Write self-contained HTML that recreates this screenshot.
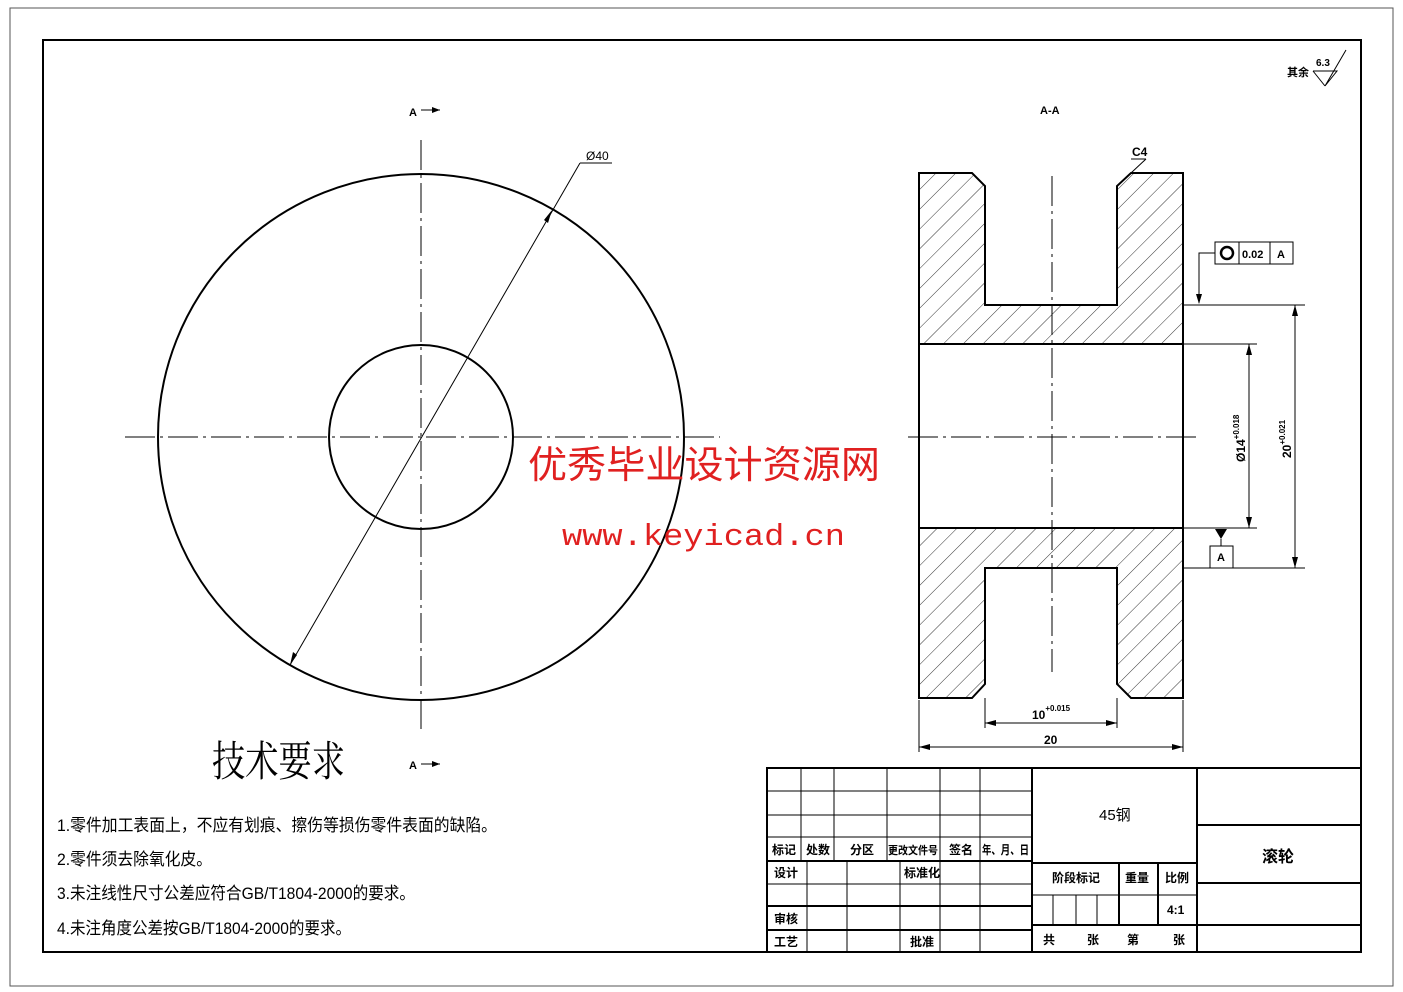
<!DOCTYPE html>
<html><head><meta charset="utf-8"><style>
html,body{margin:0;padding:0;background:#fff;}
svg{display:block;}
text{font-family:"Liberation Sans","Noto Sans CJK SC",sans-serif;fill:#000;}
</style></head><body>
<svg width="1403" height="992" viewBox="0 0 1403 992" xmlns="http://www.w3.org/2000/svg">
<defs>
<pattern id="h" patternUnits="userSpaceOnUse" width="14" height="14" patternTransform="rotate(45)">
<line x1="0" y1="0" x2="0" y2="14" stroke="#000" stroke-width="0.8"/>
</pattern>
</defs>
<rect x="10" y="8" width="1383" height="978" fill="none" stroke="#555" stroke-width="1"/>
<rect x="43" y="40" width="1318" height="912" fill="none" stroke="#000" stroke-width="2"/>

<!-- left view -->
<circle cx="421" cy="437" r="263" fill="none" stroke="#000" stroke-width="2"/>
<circle cx="421" cy="437" r="92" fill="none" stroke="#000" stroke-width="2"/>
<line x1="125" y1="437" x2="720" y2="437" stroke="#000" stroke-width="1" stroke-dasharray="30,5,3,5"/>
<line x1="421" y1="140" x2="421" y2="730" stroke="#000" stroke-width="1" stroke-dasharray="30,5,3,5"/>
<line x1="290" y1="665" x2="580" y2="163" stroke="#000" stroke-width="1"/>
<line x1="580" y1="163" x2="612" y2="163" stroke="#000" stroke-width="1"/>
<polygon points="290,665 293,652 297,655" fill="#000"/>
<polygon points="552,210 548,223 544,220" fill="#000"/>
<text x="586" y="160" font-size="12">Ø40</text>
<text x="409" y="116" font-size="11" font-weight="bold">A</text>
<line x1="421" y1="110" x2="440" y2="110" stroke="#000"/>
<polygon points="440,110 432,107 432,113" fill="#000"/>
<text x="409" y="769" font-size="11" font-weight="bold">A</text>
<line x1="421" y1="764" x2="440" y2="764" stroke="#000"/>
<polygon points="440,764 432,761 432,767" fill="#000"/>

<!-- section view -->
<path d="M919,173 L972,173 L985,186 L985,305 L1117,305 L1117,186 L1131,173 L1183,173 L1183,344 L919,344 Z" fill="url(#h)" stroke="#000" stroke-width="2"/>
<path d="M919,528 L1183,528 L1183,698 L1131,698 L1117,684 L1117,568 L985,568 L985,684 L972,698 L919,698 Z" fill="url(#h)" stroke="#000" stroke-width="2"/>
<line x1="919" y1="344" x2="919" y2="528" stroke="#000" stroke-width="2"/>
<line x1="1183" y1="344" x2="1183" y2="528" stroke="#000" stroke-width="2"/>
<line x1="1052" y1="176" x2="1052" y2="672" stroke="#000" stroke-width="1" stroke-dasharray="30,5,3,5"/>
<line x1="908" y1="437" x2="1196" y2="437" stroke="#000" stroke-width="1" stroke-dasharray="30,5,3,5"/>
<text x="1040" y="114" font-size="11" font-weight="bold">A-A</text>
<text x="1132" y="156" font-size="12" font-weight="bold">C4</text>
<line x1="1131" y1="159" x2="1146" y2="159" stroke="#000"/>
<line x1="1146" y1="159" x2="1131" y2="173" stroke="#000"/>

<!-- tolerance frame -->
<rect x="1215" y="242" width="78" height="22" fill="#fff" stroke="#000"/>
<line x1="1239" y1="242" x2="1239" y2="264" stroke="#000"/>
<line x1="1270" y1="242" x2="1270" y2="264" stroke="#000"/>
<circle cx="1227" cy="253" r="6" fill="none" stroke="#000" stroke-width="2.5"/>
<text x="1242" y="258" font-size="11" font-weight="bold">0.02</text>
<text x="1277" y="258" font-size="11" font-weight="bold">A</text>
<polyline points="1215,253 1199,253 1199,303" fill="none" stroke="#000"/>
<polygon points="1199,304 1196,294 1202,294" fill="#000"/>
<!-- datum A -->
<polygon points="1215,529 1227,529 1221,539" fill="#000"/>
<line x1="1221" y1="539" x2="1221" y2="546" stroke="#000"/>
<rect x="1210" y="546" width="23" height="22" fill="#fff" stroke="#000"/>
<text x="1217" y="561" font-size="11" font-weight="bold">A</text>

<!-- dims right -->
<line x1="1183" y1="305" x2="1305" y2="305" stroke="#000"/>
<line x1="1183" y1="568" x2="1305" y2="568" stroke="#000"/>
<line x1="1295" y1="305" x2="1295" y2="568" stroke="#000"/>
<polygon points="1295,305 1292,316 1298,316" fill="#000"/><polygon points="1295,568 1292,557 1298,557" fill="#000"/>
<line x1="1183" y1="344" x2="1257" y2="344" stroke="#000"/>
<line x1="1183" y1="528" x2="1257" y2="528" stroke="#000"/>
<line x1="1249" y1="344" x2="1249" y2="528" stroke="#000"/>
<polygon points="1249,344 1246,355 1252,355" fill="#000"/><polygon points="1249,528 1246,517 1252,517" fill="#000"/>
<text transform="translate(1245,462) rotate(-90)" font-size="12" font-weight="bold">Ø14<tspan font-size="8" dy="-6">+0.018</tspan></text>
<text transform="translate(1291,458) rotate(-90)" font-size="12" font-weight="bold">20<tspan font-size="8" dy="-6">+0.021</tspan></text>

<!-- dims bottom -->
<line x1="985" y1="698" x2="985" y2="728" stroke="#000"/>
<line x1="1117" y1="698" x2="1117" y2="728" stroke="#000"/>
<line x1="985" y1="723" x2="1117" y2="723" stroke="#000"/>
<polygon points="985,723 996,720 996,726" fill="#000"/><polygon points="1117,723 1106,720 1106,726" fill="#000"/>
<text x="1032" y="719" font-size="12" font-weight="bold">10<tspan font-size="8" dy="-8">+0.015</tspan></text>
<line x1="919" y1="700" x2="919" y2="752" stroke="#000"/>
<line x1="1183" y1="700" x2="1183" y2="752" stroke="#000"/>
<line x1="919" y1="747" x2="1183" y2="747" stroke="#000"/>
<polygon points="919,747 930,744 930,750" fill="#000"/><polygon points="1183,747 1172,744 1172,750" fill="#000"/>
<text x="1044" y="744" font-size="12" font-weight="bold">20</text>

<!-- roughness -->
<text x="1287" y="76" font-size="11" font-weight="bold">其余</text>
<text x="1316" y="66" font-size="10" font-weight="bold">6.3</text>
<polyline points="1313,71 1337,71 1325,86 1346,50" fill="none" stroke="#000"/>
<line x1="1313" y1="71" x2="1325" y2="86" stroke="#000"/>

<!-- watermark -->
<text x="528" y="478" font-size="38" textLength="352" lengthAdjust="spacingAndGlyphs" style="fill:#e02020">优秀毕业设计资源网</text>
<text x="562" y="545" font-size="31" textLength="283" lengthAdjust="spacingAndGlyphs" style="fill:#e02020;font-family:'Liberation Mono',monospace">www.keyicad.cn</text>

<!-- technical requirements -->
<text x="212" y="776" font-size="42" textLength="133" lengthAdjust="spacingAndGlyphs" style="font-family:'Liberation Serif','Noto Serif CJK SC',serif">技术要求</text>
<text x="57" y="831" font-size="17" textLength="440" lengthAdjust="spacingAndGlyphs">1.零件加工表面上，不应有划痕、擦伤等损伤零件表面的缺陷。</text>
<text x="57" y="865" font-size="17" textLength="155" lengthAdjust="spacingAndGlyphs">2.零件须去除氧化皮。</text>
<text x="57" y="899" font-size="17" textLength="358" lengthAdjust="spacingAndGlyphs">3.未注线性尺寸公差应符合GB/T1804-2000的要求。</text>
<text x="57" y="934" font-size="17" textLength="294" lengthAdjust="spacingAndGlyphs">4.未注角度公差按GB/T1804-2000的要求。</text>

<!-- title block -->
<g stroke="#000" stroke-width="1" fill="none">
<rect x="767" y="768" width="594" height="184" stroke-width="2"/>
<line x1="767" y1="791" x2="1032" y2="791"/>
<line x1="767" y1="815" x2="1032" y2="815"/>
<line x1="767" y1="837" x2="1032" y2="837"/>
<line x1="767" y1="861" x2="1032" y2="861" stroke-width="2"/>
<line x1="767" y1="884" x2="1032" y2="884"/>
<line x1="767" y1="906" x2="1032" y2="906" stroke-width="2"/>
<line x1="767" y1="930" x2="1032" y2="930" stroke-width="2"/>
<line x1="801" y1="768" x2="801" y2="861"/>
<line x1="834" y1="768" x2="834" y2="861"/>
<line x1="887" y1="768" x2="887" y2="861"/>
<line x1="940" y1="768" x2="940" y2="952"/>
<line x1="980" y1="768" x2="980" y2="952"/>
<line x1="807" y1="861" x2="807" y2="952"/>
<line x1="847" y1="861" x2="847" y2="952"/>
<line x1="900" y1="861" x2="900" y2="952"/>
<line x1="1032" y1="768" x2="1032" y2="952" stroke-width="2"/>
<line x1="1032" y1="863" x2="1197" y2="863" stroke-width="2"/>
<line x1="1032" y1="895" x2="1053" y2="895"/>
<line x1="1117" y1="895" x2="1197" y2="895"/>
<line x1="1032" y1="925" x2="1197" y2="925" stroke-width="2"/>
<line x1="1053" y1="895" x2="1053" y2="925"/>
<line x1="1076" y1="895" x2="1076" y2="925"/>
<line x1="1097" y1="895" x2="1097" y2="925"/>
<line x1="1053" y1="895" x2="1117" y2="895"/>
<line x1="1119" y1="863" x2="1119" y2="925" stroke-width="2"/>
<line x1="1158" y1="863" x2="1158" y2="925" stroke-width="2"/>
<line x1="1197" y1="768" x2="1197" y2="952" stroke-width="2"/>
<line x1="1197" y1="825" x2="1361" y2="825" stroke-width="2"/>
<line x1="1197" y1="883" x2="1361" y2="883" stroke-width="2"/>
<line x1="1197" y1="925" x2="1361" y2="925" stroke-width="2"/>
</g>
<g font-size="12" font-weight="bold">
<text x="772" y="854">标记</text><text x="806" y="854">处数</text><text x="850" y="854">分区</text>
<text x="888" y="854" font-size="11" textLength="50" lengthAdjust="spacingAndGlyphs">更改文件号</text><text x="949" y="854">签名</text><text x="982" y="854" textLength="47" lengthAdjust="spacingAndGlyphs">年、月、日</text>
<text x="774" y="877">设计</text><text x="904" y="877">标准化</text>
<text x="774" y="923">审核</text><text x="774" y="946">工艺</text><text x="910" y="946">批准</text>
<text x="1099" y="820" font-size="15" font-weight="normal">45钢</text>
<text x="1052" y="882">阶段标记</text><text x="1125" y="882">重量</text><text x="1165" y="882">比例</text>
<text x="1167" y="914">4:1</text>
<text x="1043" y="944">共</text><text x="1087" y="944">张</text><text x="1127" y="944">第</text><text x="1173" y="944">张</text>
<text x="1262" y="862" font-size="16">滚轮</text>
</g>
</svg>
</body></html>
